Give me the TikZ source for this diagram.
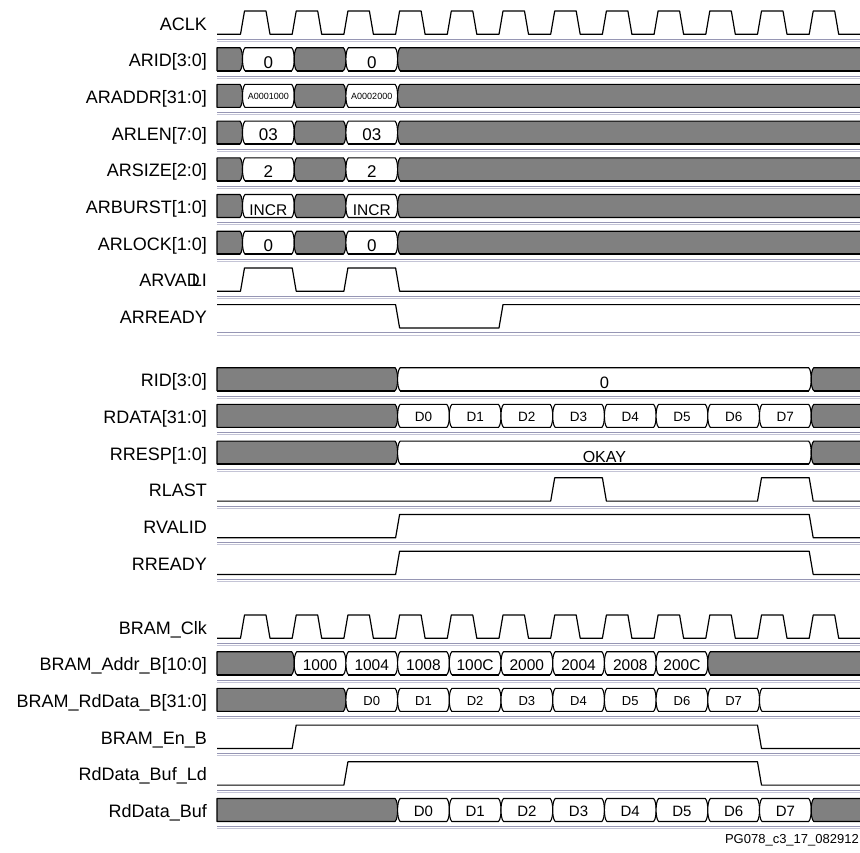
\documentclass[tikz,border=0pt]{standalone}
\usepackage{fontspec}
\setmainfont{Liberation Sans}
\definecolor{busgray}{HTML}{808080}
\definecolor{sepA}{HTML}{9696B4}
\definecolor{sepB}{HTML}{C4C4D6}
\newcommand\T[1]{(242.5+51.7*(#1))}
\tikzset{
  wave/.style={line width=1.2pt, line join=round, black},
  busline/.style={line width=1.1pt, line join=round, black},
  botline/.style={line width=1.8pt, black},
  sepa/.style={line width=1pt, sepA},
  sepb/.style={line width=1pt, sepB},
  lbl/.style={anchor=base east, inner sep=0pt, font=\fontsize{18}{18}\selectfont},
  val/.style={anchor=base, inner sep=0pt},
}
% bus segment between two transitions
\newcommand\segM[4]{%
  \draw[busline,fill=#4] ({#1+2.5},{#3}) -- ({#2-2.5},{#3})
    .. controls ({#2-0.6},{#3+2}) and ({#2},{#3+7}) .. ({#2},{#3+11.5})
    .. controls ({#2},{#3+16}) and ({#2-0.6},{#3+21}) .. ({#2-2.5},{#3+23})
    -- ({#1+2.5},{#3+23})
    .. controls ({#1+0.6},{#3+21}) and ({#1},{#3+16}) .. ({#1},{#3+11.5})
    .. controls ({#1},{#3+7}) and ({#1+0.6},{#3+2}) .. ({#1+2.5},{#3}) -- cycle;
  \draw[botline] ({#1+2.5},{#3+23}) -- ({#2-2.5},{#3+23});}
% bus segment from left edge
\newcommand\segL[3]{%
  \draw[busline,fill=#3] (217,{#2}) -- ({#1-2.5},{#2})
    .. controls ({#1-0.6},{#2+2}) and ({#1},{#2+7}) .. ({#1},{#2+11.5})
    .. controls ({#1},{#2+16}) and ({#1-0.6},{#2+21}) .. ({#1-2.5},{#2+23})
    -- (217,{#2+23}) -- cycle;
  \draw[botline] (217,{#2+23}) -- ({#1-2.5},{#2+23});}
% bus segment to right edge
\newcommand\segR[3]{%
  \draw[busline,fill=#3] (870,{#2}) -- ({#1+2.5},{#2})
    .. controls ({#1+0.6},{#2+2}) and ({#1},{#2+7}) .. ({#1},{#2+11.5})
    .. controls ({#1},{#2+16}) and ({#1+0.6},{#2+21}) .. ({#1+2.5},{#2+23})
    -- (870,{#2+23});
  \draw[botline] ({#1+2.5},{#2+23}) -- (870,{#2+23});}
% value text: x1, x2, baseline, name, size, text
\newcommand\val[6]{\node[val,font=\fontsize{#5}{#5}\selectfont] (#4) at ({((#1)+(#2))/2},{#3}) {#6};}
% rise / fall
\newcommand\up[2]{-- ({#1-2},{#2+23.3}) -- ({#1+2},{#2})}
\newcommand\dn[2]{-- ({#1-2},{#2}) -- ({#1+2},{#2+23.3})}
\newcommand\clk[1]{\draw[wave] (217,{#1+23.3})
   \foreach \k in {0,...,11} { -- ({\T{\k}-2},{#1+23.3}) -- ({\T{\k}+2},{#1}) -- ({\T{\k}+23.5},{#1}) -- ({\T{\k}+27.5},{#1+23.3}) }
   -- (870,{#1+23.3});}
\begin{document}
\begin{tikzpicture}[x=1pt,y=-1pt]
\useasboundingbox (0,0) rectangle (860,852);
\fill[white] (0,0) rectangle (860,852);

% separators
\foreach \t in {11,47.7,84.4,121.1,157.8,194.5,231.2,267.9,304.6,367.7,404.4,441.1,477.8,514.5,551.2,615,651.7,688.4,725.1,761.8,798.5} {
  \draw[sepa] (217,{\t+28.3}) -- (860,{\t+28.3});
  \draw[sepb] (217,{\t+30.4}) -- (860,{\t+30.4});
}

% row labels
\node[lbl] (lACLK) at (207,30) {ACLK};
\node[lbl] (lARID) at (207,66.7) {ARID[3:0]};
\node[lbl] (lARADDR) at (207,103.4) {ARADDR[31:0]};
\node[lbl] (lARLEN) at (207,140.1) {ARLEN[7:0]};
\node[lbl] (lARSIZE) at (207,176.8) {ARSIZE[2:0]};
\node[lbl] (lARBURST) at (207,213.5) {ARBURST[1:0]};
\node[lbl] (lARLOCK) at (207,250.2) {ARLOCK[1:0]};
\node[lbl] (lARVALID) at (207,286.9) {ARVA\rlap{D}\kern5pt LI};
\node[lbl] (lARREADY) at (207,323.6) {ARREADY};
\node[lbl] (lRID) at (207,386.7) {RID[3:0]};
\node[lbl] (lRDATA) at (207,423.4) {RDATA[31:0]};
\node[lbl] (lRRESP) at (207,460.1) {RRESP[1:0]};
\node[lbl] (lRLAST) at (207,496.8) {RLAST};
\node[lbl] (lRVALID) at (207,533.5) {RVALID};
\node[lbl] (lRREADY) at (207,570.2) {RREADY};
\node[lbl] (lBCLK) at (207,634) {BRAM\_Clk};
\node[lbl] (lBADDR) at (207,670.7) {BRAM\_Addr\_B[10:0]};
\node[lbl] (lBRD) at (207,707.4) {BRAM\_RdData\_B[31:0]};
\node[lbl] (lBEN) at (207,744.1) {BRAM\_En\_B};
\node[lbl] (lLD) at (207,780.8) {RdData\_Buf\_Ld};
\node[lbl] (lBUF) at (207,817.5) {RdData\_Buf};

% ACLK
\clk{11}

% AR buses
\foreach \t/\nm/\va/\vb/\sz/\off in {47.7/arid/0/0/17/20.5, 84.4/araddr/A0001000/A0002000/9/15.5, 121.1/arlen/03/03/17/19.5, 157.8/arsize/2/2/17/19.5, 194.5/arburst/INCR/INCR/15.5/21.3, 231.2/arlock/0/0/17/20.5} {
  \segL{\T{0}}{\t}{busgray}
  \segM{\T{0}}{\T{1}}{\t}{white}
  \segM{\T{1}}{\T{2}}{\t}{busgray}
  \segM{\T{2}}{\T{3}}{\t}{white}
  \segR{\T{3}}{\t}{busgray}
  \val{\T{0}}{\T{1}}{\t+\off}{\nm a}{\sz}{\va}
  \val{\T{2}}{\T{3}}{\t+\off}{\nm b}{\sz}{\vb}
}

% ARVALID
\draw[wave] (217,{267.9+23.3}) \up{\T{0}}{267.9} \dn{\T{1}}{267.9} \up{\T{2}}{267.9} \dn{\T{3}}{267.9} -- (870,{267.9+23.3});
% ARREADY
\draw[wave] (217,304.6) \dn{\T{3}}{304.6} \up{\T{5}}{304.6} -- (870,304.6);

% RID
\segL{\T{3}}{367.7}{busgray}
\segM{\T{3}}{\T{11}}{367.7}{white}
\segR{\T{11}}{367.7}{busgray}
\val{\T{3}}{\T{11}}{367.7+20.6}{ridv}{16.5}{0}
% RDATA
\segL{\T{3}}{404.4}{busgray}
\foreach \i in {0,...,7} {
  \segM{\T{\i+3}}{\T{\i+4}}{404.4}{white}
  \val{\T{\i+3}}{\T{\i+4}}{404.4+17.5}{rd\i}{13.5}{D\i}
}
\segR{\T{11}}{404.4}{busgray}
% RRESP
\segL{\T{3}}{441.1}{busgray}
\segM{\T{3}}{\T{11}}{441.1}{white}
\segR{\T{11}}{441.1}{busgray}
\val{\T{3}}{\T{11}}{441.1+21}{rrespv}{16}{OKAY}
% RLAST
\draw[wave] (217,{477.8+23.3}) \up{\T{6}}{477.8} \dn{\T{7}}{477.8} \up{\T{10}}{477.8} \dn{\T{11}}{477.8} -- (870,{477.8+23.3});
% RVALID
\draw[wave] (217,{514.5+23.3}) \up{\T{3}}{514.5} \dn{\T{11}}{514.5} -- (870,{514.5+23.3});
% RREADY
\draw[wave] (217,{551.2+23.3}) \up{\T{3}}{551.2} \dn{\T{11}}{551.2} -- (870,{551.2+23.3});

% BRAM_Clk
\clk{615}

% BRAM_Addr_B
\segL{\T{1}}{651.7}{busgray}
\foreach \i/\a in {0/1000,1/1004,2/1008,3/100C,4/2000,5/2004,6/2008,7/200C} {
  \segM{\T{\i+1}}{\T{\i+2}}{651.7}{white}
  \val{\T{\i+1}}{\T{\i+2}}{651.7+19}{ba\i}{15.5}{\a}
}
\segR{\T{9}}{651.7}{busgray}

% BRAM_RdData_B
\segL{\T{2}}{688.4}{busgray}
\foreach \i in {0,...,7} {
  \segM{\T{\i+2}}{\T{\i+3}}{688.4}{white}
  \val{\T{\i+2}}{\T{\i+3}}{688.4+17.5}{brd\i}{13}{D\i}
}
\segR{\T{10}}{688.4}{white}

% BRAM_En_B
\draw[wave] (217,{725.1+23.3}) \up{\T{1}}{725.1} \dn{\T{10}}{725.1} -- (870,{725.1+23.3});
% RdData_Buf_Ld
\draw[wave] (217,{761.8+23.3}) \up{\T{2}}{761.8} \dn{\T{10}}{761.8} -- (870,{761.8+23.3});

% RdData_Buf
\segL{\T{3}}{798.5}{busgray}
\foreach \i in {0,...,7} {
  \segM{\T{\i+3}}{\T{\i+4}}{798.5}{white}
  \val{\T{\i+3}}{\T{\i+4}}{798.5+18}{buf\i}{15}{D\i}
}
\segR{\T{11}}{798.5}{busgray}

% footer
\node[anchor=base east, inner sep=0pt, font=\fontsize{13}{13}\selectfont] (foot) at (859,843) {PG078\_c3\_17\_082912};
\end{tikzpicture}
\end{document}
